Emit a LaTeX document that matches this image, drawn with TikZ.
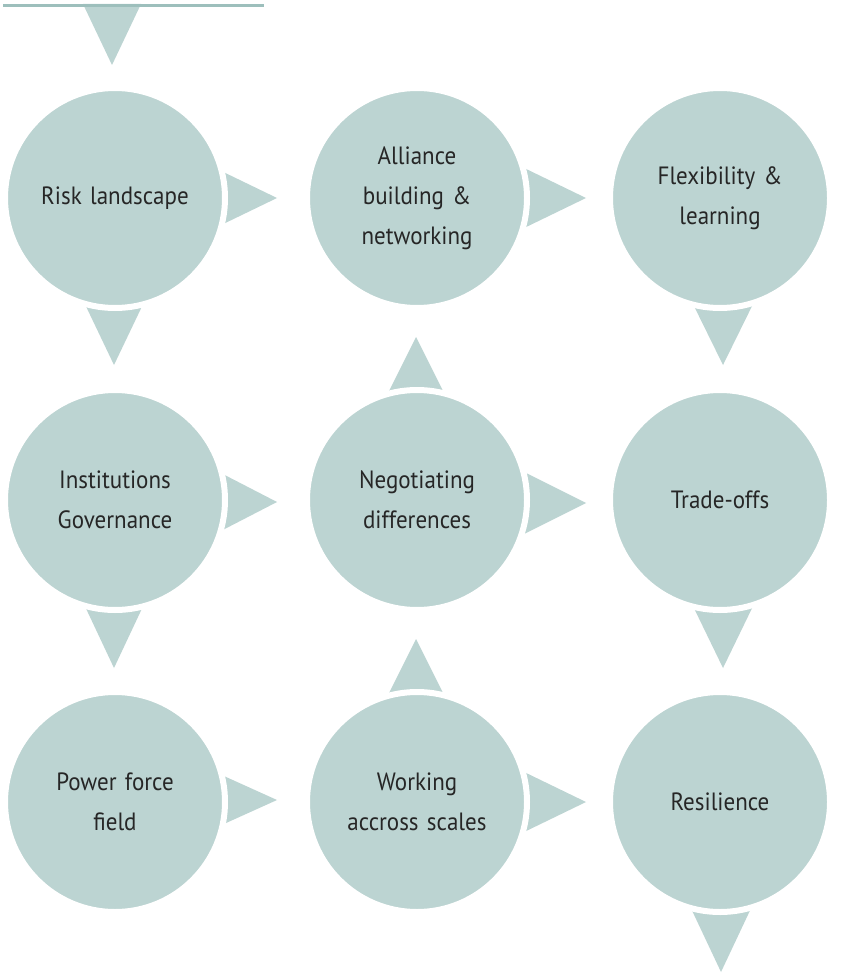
\documentclass[tikz,border=0pt]{standalone}
\usepackage{fontspec}
\setmainfont{PT Sans}[FakeStretch=0.92, WordSpace=0.85]
\usetikzlibrary{calc,backgrounds}
\definecolor{stagefill}{HTML}{BCD4D2}
\definecolor{stageline}{HTML}{9DBFBC}
\definecolor{stagetext}{HTML}{262626}
\begin{document}
\begin{tikzpicture}[
        x                = 1pt,
        y                = -1pt,
        stage/.style     = {circle, fill=stagefill, draw=white, line width=6pt,
                            minimum size=220pt, inner sep=0pt, text width=170pt,
                            align=center, text=stagetext,
                            font=\fontsize{25}{40}\selectfont},
        tri/.style       = {fill=stagefill},
        % rule/.style    = {draw},
    ]
    \useasboundingbox (0,0) rectangle (854,973);

    % the nine stages
    \node[stage] (risk)     at (115,198) {Risk landscape};
    \node[stage] (alliance) at (417,198) {Alliance\\ building \&\\ networking};
    \node[stage] (flex)     at (720,198) {Flexibility \&\\ learning};
    \node[stage] (inst)     at (115,500) {Institutions\\ Governance};
    \node[stage] (nego)     at (417,500) {Negotiating\\ differences};
    \node[stage] (trade)    at (720,500) {Trade-offs};
    \node[stage] (power)    at (115,802) {Power force\\ field};
    \node[stage] (working)  at (417,802) {Working\\ accross scales};
    \node[stage] (resil)    at (720,802) {Resilience};

    \coordinate (lineL) at (3,6);
    \coordinate (lineR) at (264,6);
    \draw[stageline, line width=3pt] (lineL) -- (lineR);

    \begin{scope}[on background layer]
        \fill[white] (0,0) rectangle (854,973);
        % entry
        \fill[tri] ($(lineL)+(80,-2)$) -- ($(lineL)+(138,-2)$) -- ($(lineL)+(109,59)$) -- cycle;
        % left to right
        \fill[tri] ($(risk)+(100,-30)$) -- ($(risk)+(162,0)$) -- ($(risk)+(100,30)$) -- cycle;
        \fill[tri] ($(alliance)+(103,-32)$) -- ($(alliance)+(169,0)$) -- ($(alliance)+(103,32)$) -- cycle;
        \fill[tri] ($(inst)+(100,-30)$) -- ($(inst)+(162,2)$) -- ($(inst)+(100,34)$) -- cycle;
        \fill[tri] ($(nego)+(103,-30)$) -- ($(nego)+(169,3)$) -- ($(nego)+(103,36)$) -- cycle;
        \fill[tri] ($(power)+(100,-30)$) -- ($(power)+(162,-2)$) -- ($(power)+(100,26)$) -- cycle;
        \fill[tri] ($(working)+(103,-32)$) -- ($(working)+(169,0)$) -- ($(working)+(103,32)$) -- cycle;
        % downwards
        \fill[tri] ($(risk)+(-33,100)$) -- ($(risk)+(-1,167)$) -- ($(risk)+(31,100)$) -- cycle;
        \fill[tri] ($(inst)+(-33,100)$) -- ($(inst)+(-1,168)$) -- ($(inst)+(31,100)$) -- cycle;
        \fill[tri] ($(flex)+(-30,100)$) -- ($(flex)+(3,167)$) -- ($(flex)+(36,100)$) -- cycle;
        \fill[tri] ($(trade)+(-30,100)$) -- ($(trade)+(3,168)$) -- ($(trade)+(36,100)$) -- cycle;
        \fill[tri] ($(resil)+(-32,100)$) -- ($(resil)+(1,170)$) -- ($(resil)+(34,100)$) -- cycle;
        % upwards
        \fill[tri] ($(nego)+(-30,-105)$) -- ($(nego)+(-1,-163)$) -- ($(nego)+(28,-105)$) -- cycle;
        \fill[tri] ($(working)+(-30,-105)$) -- ($(working)+(-1,-163)$) -- ($(working)+(28,-105)$) -- cycle;
    \end{scope}
\end{tikzpicture}
\end{document}
